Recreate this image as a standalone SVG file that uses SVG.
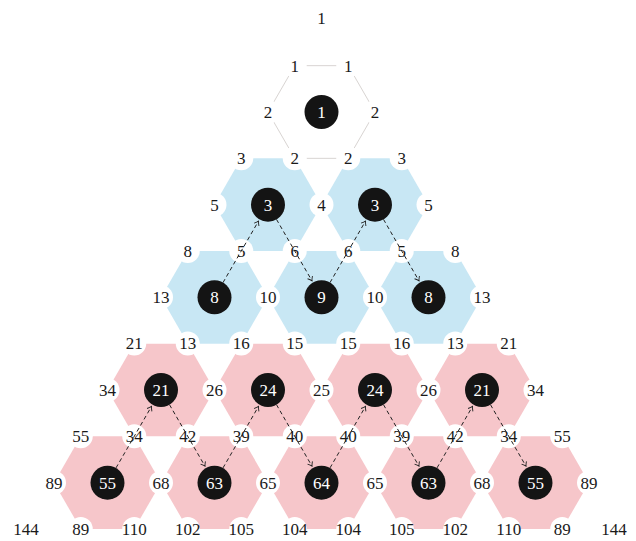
<svg xmlns="http://www.w3.org/2000/svg" xmlns:xlink="http://www.w3.org/1999/xlink" width="636" height="541" viewBox="0 0 636 541">
<style>
.white{fill:#ffffff;stroke:#d8d4d2;stroke-width:1}
.blue{fill:#c8e7f4;stroke:none}
.pink{fill:#f6c6ca;stroke:none}
.ctr{fill:#141414}
.cn{font-family:"Liberation Serif","DejaVu Serif",serif;font-size:17px;fill:#ffffff;text-anchor:middle}
.lb{font-family:"Liberation Serif","DejaVu Serif",serif;font-size:17px;fill:#1a1a1a;text-anchor:middle}
.lc{fill:#ffffff;stroke:none}
.ar{fill:none;stroke:#222;stroke-width:1;stroke-dasharray:4 3;marker-end:url(#ah)}
</style>
<defs>
<polygon id="hex" points="-53.5,0 -26.75,-46.33 26.75,-46.33 53.5,0 26.75,46.33 -26.75,46.33"/>
<marker id="ah" markerWidth="8" markerHeight="8" refX="6" refY="4" orient="auto" markerUnits="userSpaceOnUse">
<path d="M2,1.2 Q4.5,3.3 6,4 Q4.5,4.7 2,6.8" fill="none" stroke="#222" stroke-width="0.9"/>
</marker>
</defs>
<g id="nodes">
<g id="n0"><use xlink:href="#hex" class="white" x="321.5" y="112"/><circle class="ctr" cx="321.5" cy="112" r="17"/><text class="cn" x="321.5" y="117.8">1</text></g>
<g id="n1a"><use xlink:href="#hex" class="blue" x="268" y="204.66"/><circle class="ctr" cx="268" cy="204.66" r="17"/><text class="cn" x="268" y="210.5">3</text></g>
<g id="n1b"><use xlink:href="#hex" class="blue" x="375" y="204.66"/><circle class="ctr" cx="375" cy="204.66" r="17"/><text class="cn" x="375" y="210.5">3</text></g>
<g id="n2a"><use xlink:href="#hex" class="blue" x="214.5" y="297.3"/><circle class="ctr" cx="214.5" cy="297.3" r="17"/><text class="cn" x="214.5" y="303.1">8</text></g>
<g id="n2b"><use xlink:href="#hex" class="blue" x="321.5" y="297.3"/><circle class="ctr" cx="321.5" cy="297.3" r="17"/><text class="cn" x="321.5" y="303.1">9</text></g>
<g id="n2c"><use xlink:href="#hex" class="blue" x="428.5" y="297.3"/><circle class="ctr" cx="428.5" cy="297.3" r="17"/><text class="cn" x="428.5" y="303.1">8</text></g>
<g id="n3a"><use xlink:href="#hex" class="pink" x="161" y="390"/><circle class="ctr" cx="161" cy="390" r="17"/><text class="cn" x="161" y="395.8">21</text></g>
<g id="n3b"><use xlink:href="#hex" class="pink" x="268" y="390"/><circle class="ctr" cx="268" cy="390" r="17"/><text class="cn" x="268" y="395.8">24</text></g>
<g id="n3c"><use xlink:href="#hex" class="pink" x="375" y="390"/><circle class="ctr" cx="375" cy="390" r="17"/><text class="cn" x="375" y="395.8">24</text></g>
<g id="n3d"><use xlink:href="#hex" class="pink" x="482" y="390"/><circle class="ctr" cx="482" cy="390" r="17"/><text class="cn" x="482" y="395.8">21</text></g>
<g id="n4a"><use xlink:href="#hex" class="pink" x="107.5" y="482.65"/><circle class="ctr" cx="107.5" cy="482.65" r="17"/><text class="cn" x="107.5" y="488.5">55</text></g>
<g id="n4b"><use xlink:href="#hex" class="pink" x="214.5" y="482.65"/><circle class="ctr" cx="214.5" cy="482.65" r="17"/><text class="cn" x="214.5" y="488.5">63</text></g>
<g id="n4c"><use xlink:href="#hex" class="pink" x="321.5" y="482.65"/><circle class="ctr" cx="321.5" cy="482.65" r="17"/><text class="cn" x="321.5" y="488.5">64</text></g>
<g id="n4d"><use xlink:href="#hex" class="pink" x="428.5" y="482.65"/><circle class="ctr" cx="428.5" cy="482.65" r="17"/><text class="cn" x="428.5" y="488.5">63</text></g>
<g id="n4e"><use xlink:href="#hex" class="pink" x="535.5" y="482.65"/><circle class="ctr" cx="535.5" cy="482.65" r="17"/><text class="cn" x="535.5" y="488.5">55</text></g>
</g>
<g id="labels">
<circle class="lc" cx="294.75" cy="65.67" r="12"/><text class="lb" x="294.75" y="71.5">1</text>
<circle class="lc" cx="348.25" cy="65.67" r="12"/><text class="lb" x="348.25" y="71.5">1</text>
<circle class="lc" cx="268" cy="112" r="12"/><text class="lb" x="268" y="117.8">2</text>
<circle class="lc" cx="375" cy="112" r="12"/><text class="lb" x="375" y="117.8">2</text>
<circle class="lc" cx="294.75" cy="158.33" r="12"/><text class="lb" x="294.75" y="164.1">2</text>
<circle class="lc" cx="348.25" cy="158.33" r="12"/><text class="lb" x="348.25" y="164.1">2</text>
<circle class="lc" cx="241.25" cy="158.33" r="12"/><text class="lb" x="241.25" y="164.1">3</text>
<circle class="lc" cx="401.75" cy="158.33" r="12"/><text class="lb" x="401.75" y="164.1">3</text>
<circle class="lc" cx="214.5" cy="204.66" r="12"/><text class="lb" x="214.5" y="210.5">5</text>
<circle class="lc" cx="321.5" cy="204.66" r="12"/><text class="lb" x="321.5" y="210.5">4</text>
<circle class="lc" cx="428.5" cy="204.66" r="12"/><text class="lb" x="428.5" y="210.5">5</text>
<circle class="lc" cx="241.25" cy="251" r="12"/><text class="lb" x="241.25" y="256.8">5</text>
<circle class="lc" cx="294.75" cy="251" r="12"/><text class="lb" x="294.75" y="256.8">6</text>
<circle class="lc" cx="348.25" cy="251" r="12"/><text class="lb" x="348.25" y="256.8">6</text>
<circle class="lc" cx="401.75" cy="251" r="12"/><text class="lb" x="401.75" y="256.8">5</text>
<circle class="lc" cx="187.75" cy="251" r="12"/><text class="lb" x="187.75" y="256.8">8</text>
<circle class="lc" cx="455.25" cy="251" r="12"/><text class="lb" x="455.25" y="256.8">8</text>
<circle class="lc" cx="161" cy="297.3" r="12"/><text class="lb" x="161" y="303.1">13</text>
<circle class="lc" cx="268" cy="297.3" r="12"/><text class="lb" x="268" y="303.1">10</text>
<circle class="lc" cx="375" cy="297.3" r="12"/><text class="lb" x="375" y="303.1">10</text>
<circle class="lc" cx="482" cy="297.3" r="12"/><text class="lb" x="482" y="303.1">13</text>
<circle class="lc" cx="134.25" cy="343.6" r="12"/><text class="lb" x="134.25" y="349.4">21</text>
<circle class="lc" cx="187.75" cy="343.6" r="12"/><text class="lb" x="187.75" y="349.4">13</text>
<circle class="lc" cx="241.25" cy="343.6" r="12"/><text class="lb" x="241.25" y="349.4">16</text>
<circle class="lc" cx="294.75" cy="343.6" r="12"/><text class="lb" x="294.75" y="349.4">15</text>
<circle class="lc" cx="348.25" cy="343.6" r="12"/><text class="lb" x="348.25" y="349.4">15</text>
<circle class="lc" cx="401.75" cy="343.6" r="12"/><text class="lb" x="401.75" y="349.4">16</text>
<circle class="lc" cx="455.25" cy="343.6" r="12"/><text class="lb" x="455.25" y="349.4">13</text>
<circle class="lc" cx="508.75" cy="343.6" r="12"/><text class="lb" x="508.75" y="349.4">21</text>
<circle class="lc" cx="107.5" cy="390" r="12"/><text class="lb" x="107.5" y="395.8">34</text>
<circle class="lc" cx="214.5" cy="390" r="12"/><text class="lb" x="214.5" y="395.8">26</text>
<circle class="lc" cx="321.5" cy="390" r="12"/><text class="lb" x="321.5" y="395.8">25</text>
<circle class="lc" cx="428.5" cy="390" r="12"/><text class="lb" x="428.5" y="395.8">26</text>
<circle class="lc" cx="535.5" cy="390" r="12"/><text class="lb" x="535.5" y="395.8">34</text>
<circle class="lc" cx="80.75" cy="436.3" r="12"/><text class="lb" x="80.75" y="442.1">55</text>
<circle class="lc" cx="134.25" cy="436.3" r="12"/><text class="lb" x="134.25" y="442.1">34</text>
<circle class="lc" cx="187.75" cy="436.3" r="12"/><text class="lb" x="187.75" y="442.1">42</text>
<circle class="lc" cx="241.25" cy="436.3" r="12"/><text class="lb" x="241.25" y="442.1">39</text>
<circle class="lc" cx="294.75" cy="436.3" r="12"/><text class="lb" x="294.75" y="442.1">40</text>
<circle class="lc" cx="348.25" cy="436.3" r="12"/><text class="lb" x="348.25" y="442.1">40</text>
<circle class="lc" cx="401.75" cy="436.3" r="12"/><text class="lb" x="401.75" y="442.1">39</text>
<circle class="lc" cx="455.25" cy="436.3" r="12"/><text class="lb" x="455.25" y="442.1">42</text>
<circle class="lc" cx="508.75" cy="436.3" r="12"/><text class="lb" x="508.75" y="442.1">34</text>
<circle class="lc" cx="562.25" cy="436.3" r="12"/><text class="lb" x="562.25" y="442.1">55</text>
<circle class="lc" cx="54" cy="482.65" r="12"/><text class="lb" x="54" y="488.5">89</text>
<circle class="lc" cx="161" cy="482.65" r="12"/><text class="lb" x="161" y="488.5">68</text>
<circle class="lc" cx="268" cy="482.65" r="12"/><text class="lb" x="268" y="488.5">65</text>
<circle class="lc" cx="375" cy="482.65" r="12"/><text class="lb" x="375" y="488.5">65</text>
<circle class="lc" cx="482" cy="482.65" r="12"/><text class="lb" x="482" y="488.5">68</text>
<circle class="lc" cx="589" cy="482.65" r="12"/><text class="lb" x="589" y="488.5">89</text>
<circle class="lc" cx="80.75" cy="529" r="12"/><text class="lb" x="80.75" y="534.8">89</text>
<circle class="lc" cx="134.25" cy="529" r="12"/><text class="lb" x="134.25" y="534.8">110</text>
<circle class="lc" cx="187.75" cy="529" r="12"/><text class="lb" x="187.75" y="534.8">102</text>
<circle class="lc" cx="241.25" cy="529" r="12"/><text class="lb" x="241.25" y="534.8">105</text>
<circle class="lc" cx="294.75" cy="529" r="12"/><text class="lb" x="294.75" y="534.8">104</text>
<circle class="lc" cx="348.25" cy="529" r="12"/><text class="lb" x="348.25" y="534.8">104</text>
<circle class="lc" cx="401.75" cy="529" r="12"/><text class="lb" x="401.75" y="534.8">105</text>
<circle class="lc" cx="455.25" cy="529" r="12"/><text class="lb" x="455.25" y="534.8">102</text>
<circle class="lc" cx="508.75" cy="529" r="12"/><text class="lb" x="508.75" y="534.8">110</text>
<circle class="lc" cx="562.25" cy="529" r="12"/><text class="lb" x="562.25" y="534.8">89</text>
<text class="lb" x="26" y="534.8">144</text>
<text class="lb" x="614" y="534.8">144</text>
<text class="lb" x="321.5" y="23.8">1</text>
</g>
<g id="connectors">
<line class="ar" x1="223" y1="282.6" x2="258.5" y2="221.1"/>
<line class="ar" x1="276.5" y1="219.4" x2="312" y2="280.85"/>
<line class="ar" x1="330" y1="282.6" x2="365.5" y2="221.1"/>
<line class="ar" x1="383.5" y1="219.4" x2="419" y2="280.85"/>
<line class="ar" x1="116" y1="467.9" x2="151.5" y2="406.45"/>
<line class="ar" x1="169.5" y1="404.7" x2="205" y2="466.2"/>
<line class="ar" x1="223" y1="467.9" x2="258.5" y2="406.45"/>
<line class="ar" x1="276.5" y1="404.7" x2="312" y2="466.2"/>
<line class="ar" x1="330" y1="467.9" x2="365.5" y2="406.45"/>
<line class="ar" x1="383.5" y1="404.7" x2="419" y2="466.2"/>
<line class="ar" x1="437" y1="467.9" x2="472.5" y2="406.45"/>
<line class="ar" x1="490.5" y1="404.7" x2="526" y2="466.2"/>
</g>
</svg>
